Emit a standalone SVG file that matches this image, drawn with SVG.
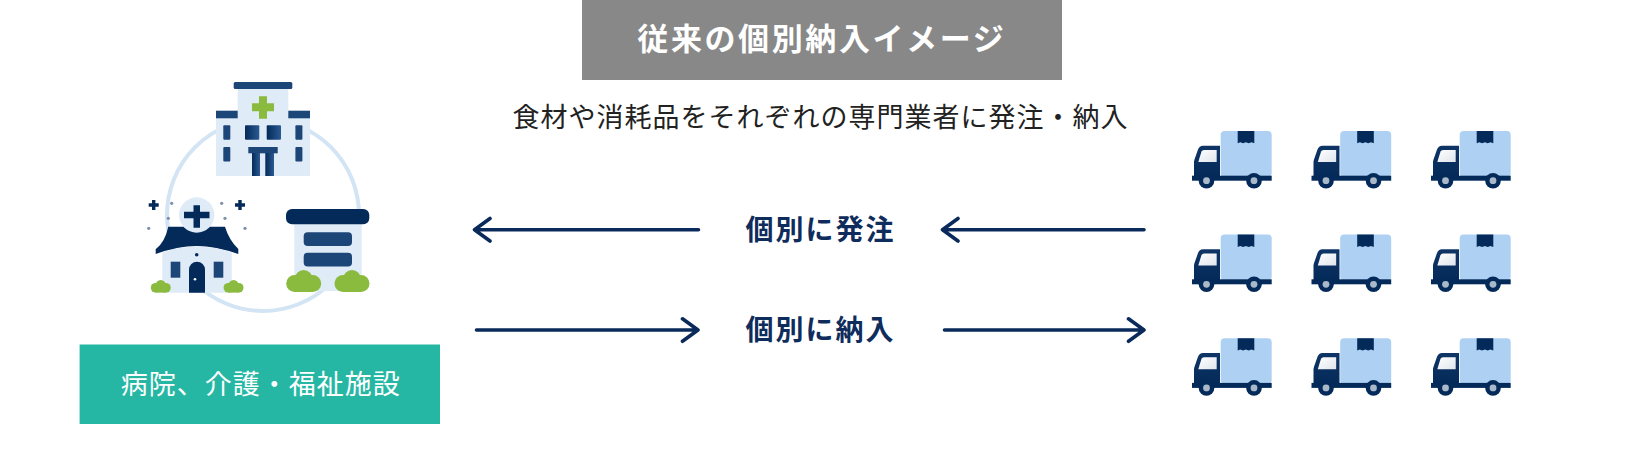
<svg xmlns="http://www.w3.org/2000/svg" width="1642" height="472" viewBox="0 0 1642 472">
<style>
text{font-family:"Noto Sans CJK JP","Noto Sans",sans-serif}
.ln{fill:none;stroke:#0a2a5c;stroke-width:3.600;stroke-linecap:round;stroke-linejoin:round}
.lab{font-size:28px;font-weight:700;fill:#0f2d5c;letter-spacing:2px;text-anchor:middle}
.navy{fill:#042a5a}.blue{fill:#1c4578}.pale{fill:#dfebf7}.green{fill:#8aba3e}.dot{fill:#7f8fa8}
.grad{fill:url(#shade)}.box{fill:#aed0f3}
</style>
<defs>
<linearGradient id="shade" x1="0" x2="1" y1="0" y2="0"><stop offset="0" stop-color="#042a5a"/><stop offset="1" stop-color="#2a5a90"/></linearGradient>
<linearGradient id="glass" x1="0" x2="1" y1="0" y2="1"><stop offset="0" stop-color="#fff"/><stop offset="1" stop-color="#dfe5ec"/></linearGradient>
<linearGradient id="cab" x1="0" x2="0" y1="0" y2="1"><stop offset="0" stop-color="#0f3566"/><stop offset="1" stop-color="#042a5a"/></linearGradient>
<g id="truck">
<rect x="28.700" y="0" width="51" height="46" rx="4" class="box"/>
<path d="M45.700 0h16.600v12.300l-2.800-1-2.800 1-2.800-1-2.800 1-2.800-1-2.600 1z" class="navy"/>
<path d="M2 46V31q0-1 .5-2.500l3.500-10q1.300-3.800 5-3.800H28V46z" fill="url(#cab)"/>
<path d="M6.300 31l3.200-10.500q.7-1.500 2.500-1.500H24.700V31z" fill="url(#glass)"/>
<rect x="0" y="44.700" width="79.700" height="5" class="navy"/>
<circle cx="14.500" cy="49.700" r="7.800" class="navy"/><circle cx="14.500" cy="49.700" r="3.400" fill="#a9b9c9"/>
<circle cx="62" cy="49.700" r="7.800" class="navy"/><circle cx="62" cy="49.700" r="3.400" fill="#a9b9c9"/>
</g>
<g id="bush" class="green"><circle cx="9" cy="14" r="8.500"/><circle cx="18" cy="9.500" r="9"/><circle cx="27" cy="14" r="8.500"/><rect x="9" y="14" width="18" height="8.500"/></g>
</defs>
<g id="title"><rect x="582" y="0" width="480" height="80" fill="#888"/>
<text x="821.800" y="50" text-anchor="middle" font-size="31" font-weight="700" letter-spacing="2.600" fill="#fff">従来の個別納入イメージ</text></g>
<g id="subtitle"><text x="820.500" y="127" text-anchor="middle" font-size="27" letter-spacing="1" fill="#222">食材や消耗品をそれぞれの専門業者に発注・納入</text></g>
<g id="facilities">
<circle cx="263" cy="215" r="96" fill="none" stroke="#d3e4f4" stroke-width="4"/>
<g id="hospital">
<rect x="237.700" y="85" width="50.600" height="91" class="pale"/><rect x="216" y="115" width="94" height="61" class="pale"/>
<rect x="233.700" y="82" width="58.600" height="7" rx="1.500" class="blue"/>
<rect x="216" y="110.700" width="21.700" height="7.600" class="blue"/><rect x="288.300" y="110.700" width="21.700" height="7.600" class="blue"/>
<path d="M259 96.300h8v7h7v8h-7v7.400h-8v-7.400h-7v-8h7z" class="green"/>
<rect x="223.300" y="125.300" width="7" height="14.400" rx="1" class="blue"/><rect x="295.400" y="125.300" width="7" height="14.400" rx="1" class="blue"/>
<rect x="223.300" y="147" width="7" height="14.400" rx="1" class="blue"/><rect x="295.400" y="147" width="7" height="14.400" rx="1" class="blue"/>
<rect x="245" y="125.300" width="14.300" height="14.400" rx="1" class="grad"/><rect x="266.700" y="125.300" width="14.300" height="14.400" rx="1" class="grad"/>
<rect x="248.300" y="147" width="29.400" height="6.300" class="blue"/>
<rect x="252" y="153" width="8" height="23" class="grad"/><rect x="265.300" y="153" width="8.700" height="23" class="grad"/>
</g>
<g id="clinic">
<path d="M168.300 226.700H225Q229 240 238.300 249V254Q215 246 196.700 246 178 246 155.700 254V249.300Q165 242 168.300 226.700z" class="navy"/>
<path d="M162.300 252.500Q180 246.500 196.700 246.500 214 246.500 231.700 252.500V292.700H162.300z" class="pale"/>
<circle cx="196.700" cy="215" r="17.700" class="pale"/>
<path d="M193.500 205.500h6.500v6.500h9.500v6.500H200v9.500h-6.500v-9.500H184v-6.500h9.500z" class="navy" transform="translate(0,-.300)"/>
<path d="M152 200h3.400v3.300h3.300v3.400h-3.300v3.300H152v-3.300h-3.300v-3.400H152z" class="navy"/>
<path d="M238.300 200h3.400v3.300h3.300v3.400h-3.300v3.300h-3.400v-3.300H235v-3.400h3.300z" class="navy"/>
<circle cx="171.700" cy="203.300" r="1.600" class="dot"/><circle cx="221.700" cy="203.300" r="1.600" class="dot"/>
<circle cx="168.300" cy="218.300" r="1.600" class="dot"/><circle cx="225" cy="218.300" r="1.600" class="dot"/>
<circle cx="148.700" cy="228.300" r="1.600" class="dot"/><circle cx="245" cy="228.300" r="1.600" class="dot"/>
<circle cx="196.700" cy="254.700" r="1.800" class="navy"/>
<rect x="170.700" y="261.700" width="9.600" height="16" class="blue"/><rect x="213.700" y="261.700" width="9.600" height="16" class="blue"/>
<path d="M189 292.700V269.700a8 8 0 0 1 16 0V292.700z" class="navy"/>
<circle cx="195" cy="279.300" r="1.300" fill="#fff"/>
<use href="#bush" transform="translate(150.500,279.800) scale(.57)"/>
<use href="#bush" transform="translate(223.300,279.800) scale(.57)"/>
</g>
<g id="store">
<rect x="294.300" y="224" width="67.400" height="67" class="pale"/>
<rect x="286" y="209" width="83.300" height="15.300" rx="6" class="navy"/>
<rect x="303.700" y="232.300" width="48.300" height="13.700" rx="4" class="blue"/>
<rect x="303.700" y="252.700" width="48.300" height="13.700" rx="4" class="blue"/>
<use href="#bush" transform="translate(285.700,269.500)"/>
<use href="#bush" transform="translate(334,269.500)"/>
</g>
</g>
<g id="facility-label"><rect x="79.600" y="344.500" width="360.400" height="79.500" fill="#26b7a4"/>
<text x="260.700" y="393.500" text-anchor="middle" font-size="27" fill="#fff" letter-spacing="1">病院、介護・福祉施設</text></g>
<g id="connectors">
<path class="ln" d="M698.500 229.700H474.500M490 218.500L474.500 229.700 490 241"/>
<path class="ln" d="M476.500 330H698M682.500 318.800L698 330 682.500 341.300"/>
<path class="ln" d="M1144 229.700H942.500M958 218.500L942.500 229.700 958 241"/>
<path class="ln" d="M944.500 330H1144M1128.500 318.800L1144 330 1128.500 341.300"/>
</g>
<g id="label-order"><text class="lab" x="820.500" y="239.500">個別に発注</text></g>
<g id="label-delivery"><text class="lab" x="820.500" y="340">個別に納入</text></g>
<g id="trucks">
<use href="#truck" x="1192" y="131"/><use href="#truck" x="1311.500" y="131"/><use href="#truck" x="1431" y="131"/>
<use href="#truck" x="1192" y="234.600"/><use href="#truck" x="1311.500" y="234.600"/><use href="#truck" x="1431" y="234.600"/>
<use href="#truck" x="1192" y="338.200"/><use href="#truck" x="1311.500" y="338.200"/><use href="#truck" x="1431" y="338.200"/>
</g>
</svg>
